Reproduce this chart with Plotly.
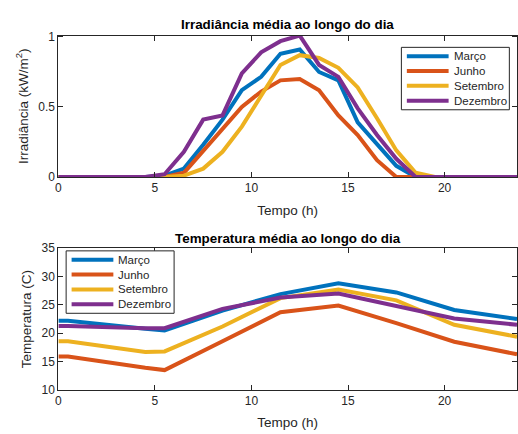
import plotly.graph_objects as go

# Mean daily profiles by month
months = ["Março", "Junho", "Setembro", "Dezembro"]
colors = ["#0072BD", "#D95319", "#EDB120", "#7E2F8E"]

# Irradiance (kW/m2), hourly samples at mid-hour
t_irr = [0, 0.5, 1.5, 2.5, 3.5, 4.5, 5.5, 6.5, 7.5, 8.5, 9.5, 10.5, 11.5,
         12.5, 13.5, 14.5, 15.5, 16.5, 17.5, 18.5, 19.5, 20.5, 21.5, 22.5,
         23.5, 23.75]
irr_marco = [0, 0, 0, 0, 0, 0, 0.01, 0.06, 0.23, 0.41, 0.62, 0.715, 0.88,
             0.91, 0.75, 0.69, 0.39, 0.23, 0.08, 0, 0, 0, 0, 0, 0, 0]
irr_junho = [0, 0, 0, 0, 0, 0, 0, 0.03, 0.19, 0.34, 0.50, 0.61, 0.69,
             0.70, 0.62, 0.44, 0.30, 0.12, 0, 0, 0, 0, 0, 0, 0, 0]
irr_setembro = [0, 0, 0, 0, 0, 0, 0, 0.01, 0.06, 0.18, 0.36, 0.58, 0.80,
                0.87, 0.85, 0.78, 0.64, 0.42, 0.19, 0.03, 0, 0, 0, 0, 0, 0]
irr_dezembro = [0, 0, 0, 0, 0, 0, 0.02, 0.18, 0.41, 0.44, 0.74, 0.89, 0.97,
                1.01, 0.80, 0.715, 0.49, 0.30, 0.13, 0, 0, 0, 0, 0, 0, 0]

# Temperature (C)
t_temp = [0, 0.5, 4.5, 5.5, 8.5, 11.5, 14.5, 17.5, 20.5, 23.75]
temp_marco = [22.2, 22.2, 20.8, 20.5, 24.0, 26.9, 28.8, 27.2, 24.1, 22.5]
temp_junho = [15.9, 15.9, 13.9, 13.5, 18.6, 23.7, 24.9, 21.8, 18.5, 16.3]
temp_setembro = [18.6, 18.6, 16.7, 16.8, 21.2, 26.2, 27.7, 25.8, 21.5, 19.4]
temp_dezembro = [21.3, 21.3, 20.9, 20.9, 24.3, 26.3, 27.0, 24.75, 22.6, 21.5]

x_ticks = [0, 5, 10, 15, 20]
irr_ticks = [0, 0.5, 1]
irr_tick_text = ["0", "0.5", "1"]
temp_ticks = [10, 15, 20, 25, 30, 35]

irr_series = [irr_marco, irr_junho, irr_setembro, irr_dezembro]
temp_series = [temp_marco, temp_junho, temp_setembro, temp_dezembro]

W, H = 518, 434
FONT = "Liberation Sans, Arial, sans-serif"
INK = "#262626"


def px(x):
    return x / W


def py(y):
    return 1 - y / H


fig = go.Figure()
for name, col, ys in zip(months, colors, irr_series):
    fig.add_trace(go.Scatter(x=t_irr, y=ys, mode="lines", name=name,
                             line=dict(color=col, width=4),
                             xaxis="x", yaxis="y", showlegend=False))
for name, col, ys in zip(months, colors, temp_series):
    fig.add_trace(go.Scatter(x=t_temp, y=ys, mode="lines", name=name,
                             line=dict(color=col, width=4),
                             xaxis="x2", yaxis="y2", showlegend=False))

x0, x1 = px(55.7), px(517)
top_dom = [py(175.7), py(29.5)]
bot_dom = [py(395.7), py(249.3)]

axis_common = dict(
    showline=True, linecolor=INK, linewidth=1, mirror="ticks",
    ticks="inside", ticklen=5, tickcolor=INK, showgrid=False, zeroline=False,
    tickfont=dict(family=FONT, size=12, color=INK),
    title_font=dict(family=FONT, size=13.5, color=INK),
)

# Boxed legends in the MATLAB style: short thick line samples, tight rows
shapes = []
annotations = []


def add_legend(left, top):
    width, height = 108.6, 64.5
    shapes.append(dict(type="rect", xref="paper", yref="paper",
                       x0=px(left), x1=px(left + width),
                       y0=py(top + height), y1=py(top),
                       line=dict(color=INK, width=1), fillcolor="white",
                       layer="above"))
    for i, (name, col) in enumerate(zip(months, colors)):
        yc = top + 9.2 + i * 15.3
        shapes.append(dict(type="line", xref="paper", yref="paper",
                           x0=px(left + 5.5), x1=px(left + 47.5),
                           y0=py(yc), y1=py(yc),
                           line=dict(color=col, width=4), layer="above"))
        annotations.append(dict(text=name, x=px(left + 50.5), y=py(yc),
                                xref="paper", yref="paper", showarrow=False,
                                xanchor="left", yanchor="middle",
                                font=dict(family=FONT, size=11.5, color=INK)))


add_legend(400.7, 41.7)
add_legend(63.5, 252.0)

annotations += [
    dict(text="<b>Irradiância média ao longo do dia</b>", x=(x0 + x1) / 2,
         y=py(18.3), xref="paper", yref="paper", showarrow=False,
         xanchor="center", yanchor="middle",
         font=dict(family=FONT, size=13.4, color="#000000")),
    dict(text="<b>Temperatura média ao longo do dia</b>", x=(x0 + x1) / 2,
         y=py(239), xref="paper", yref="paper", showarrow=False,
         xanchor="center", yanchor="middle",
         font=dict(family=FONT, size=13.4, color="#000000")),
]

fig.update_layout(
    width=W, height=H,
    margin=dict(l=0, r=0, t=0, b=0),
    paper_bgcolor="white", plot_bgcolor="white",
    font=dict(family=FONT, color=INK),
    showlegend=False,
    xaxis=dict(domain=[x0, x1], anchor="y", range=[0, 23.75],
               tickvals=x_ticks, title=dict(text="Tempo (h)", standoff=11),
               **axis_common),
    yaxis=dict(domain=top_dom, anchor="x", range=[0, 1.01],
               tickvals=irr_ticks, ticktext=irr_tick_text,
               title=dict(text="Irradiância (kW/m<sup>2</sup>)", standoff=6),
               **axis_common),
    xaxis2=dict(domain=[x0, x1], anchor="y2", range=[0, 23.75],
                tickvals=x_ticks, title=dict(text="Tempo (h)", standoff=10),
                **axis_common),
    yaxis2=dict(domain=bot_dom, anchor="x2", range=[10, 35],
                tickvals=temp_ticks,
                title=dict(text="Temperatura (C)", standoff=6),
                **axis_common),
    shapes=shapes,
    annotations=annotations,
)

fig.write_html("out.html")
